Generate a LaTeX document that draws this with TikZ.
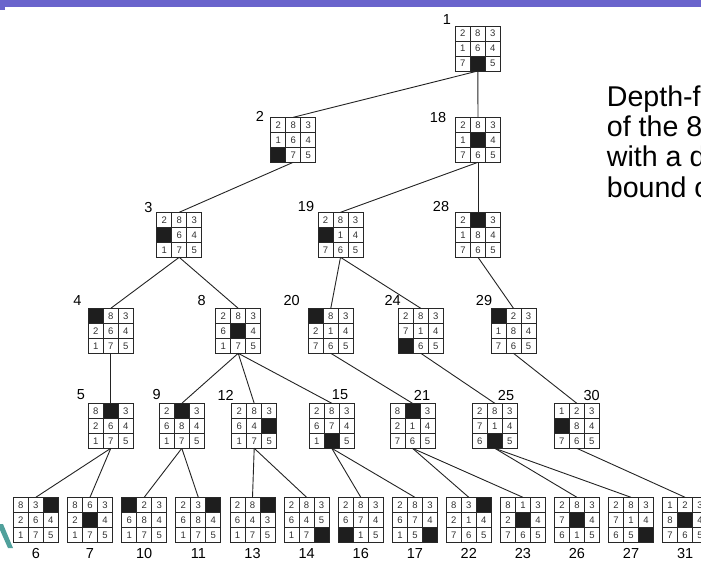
\documentclass[tikz,border=0pt]{standalone}
\usepackage{fontspec}
\setmainfont{Liberation Sans}
\definecolor{barc}{RGB}{106,100,204}
\definecolor{gridc}{RGB}{40,40,40}
\definecolor{txtc}{RGB}{50,50,50}
\definecolor{blankc}{RGB}{30,30,30}
\definecolor{edgec}{RGB}{35,35,35}
\definecolor{tealc}{RGB}{80,160,155}
\newcommand\puz[4]{%
  \node[puzbox] (#1) at ({#2+22.5},{#3+22.5}) {};
  \foreach \v [count=\k from 0] in {#4}{%
    \pgfmathtruncatemacro\prow{div(\k,3)}%
    \pgfmathtruncatemacro\pcol{mod(\k,3)}%
    \ifnum\v=0
      \fill[blankc] ({#2+15*\pcol},{#3+15*\prow}) rectangle ++(15,15);
    \else
      \node[celltxt] (#1c\k) at ({#2+15*\pcol+7.5},{#3+15*\prow+7.5}) {\v};
    \fi
    \draw[cellline] ({#2+15*\pcol},{#3+15*\prow}) rectangle ++(15,15);
  }%
}
\begin{document}
\begin{tikzpicture}[x=1pt,y=-1pt,
  puzbox/.style={draw=gridc, line width=0.9pt, rectangle, minimum width=45pt, minimum height=45pt, inner sep=0pt, outer sep=0pt},
  cellline/.style={draw=gridc, line width=0.8pt},
  celltxt/.style={font=\fontsize{9.5}{10}\selectfont, text=txtc, inner sep=0pt},
  lbl/.style={font=\fontsize{14.5}{15}\selectfont, inner sep=0pt},
  edge/.style={draw=edgec, line width=0.9pt},
  bigtxt/.style={font=\fontsize{28.6}{30}\selectfont, anchor=base west, inner sep=0pt}]
\useasboundingbox (0,0) rectangle (701,562);
\clip (0,0) rectangle (701,562);
\fill[barc] (0,0) rectangle (701,7);
\fill[barc] (0,7) rectangle (5,10);
\fill[tealc] (0,524) -- (3,524) -- (13,548) -- (8,548) -- (0,530) -- cycle;
% level 0
\puz{p1}{455.3}{26}{2,8,3,1,6,4,7,0,5}
% level 1
\puz{p2}{270.7}{117.3}{2,8,3,1,6,4,0,7,5}
\puz{p18}{455.5}{117.3}{2,8,3,1,0,4,7,6,5}
% level 2
\puz{p3}{156.7}{212.3}{2,8,3,0,6,4,1,7,5}
\puz{p19}{318}{212.3}{2,8,3,0,1,4,7,6,5}
\puz{p28}{455.5}{212.3}{2,0,3,1,8,4,7,6,5}
% level 3
\puz{p4}{88.3}{308.3}{0,8,3,2,6,4,1,7,5}
\puz{p8}{215.7}{308.3}{2,8,3,6,0,4,1,7,5}
\puz{p20}{308.3}{308.3}{0,8,3,2,1,4,7,6,5}
\puz{p24}{398.3}{308.3}{2,8,3,7,1,4,0,6,5}
\puz{p29}{491}{308.3}{0,2,3,1,8,4,7,6,5}
% level 4
\puz{p5}{88.3}{403.3}{8,0,3,2,6,4,1,7,5}
\puz{p9}{159.3}{403.3}{2,0,3,6,8,4,1,7,5}
\puz{p12}{231.7}{403.3}{2,8,3,6,4,0,1,7,5}
\puz{p15}{309.3}{403.3}{2,8,3,6,7,4,1,0,5}
\puz{p21}{390}{403.3}{8,0,3,2,1,4,7,6,5}
\puz{p25}{472.3}{403.3}{2,8,3,7,1,4,6,0,5}
\puz{p30}{554.3}{403.3}{1,2,3,0,8,4,7,6,5}
% leaves
\puz{p6}{13.3}{497.3}{8,3,0,2,6,4,1,7,5}
\puz{p7}{67.5}{497.3}{8,6,3,2,0,4,1,7,5}
\puz{p10}{121.7}{497.3}{0,2,3,6,8,4,1,7,5}
\puz{p11}{175.8}{497.3}{2,3,0,6,8,4,1,7,5}
\puz{p13}{230}{497.3}{2,8,0,6,4,3,1,7,5}
\puz{p14}{284.1}{497.3}{2,8,3,6,4,5,1,7,0}
\puz{p16}{338.3}{497.3}{2,8,3,6,7,4,0,1,5}
\puz{p17}{392.4}{497.3}{2,8,3,6,7,4,1,5,0}
\puz{p22}{446.3}{497.3}{8,3,0,2,1,4,7,6,5}
\puz{p23}{500.4}{497.3}{8,1,3,2,0,4,7,6,5}
\puz{p26}{554.4}{497.3}{2,8,3,7,0,4,6,1,5}
\puz{p27}{608.5}{497.3}{2,8,3,7,1,4,6,5,0}
\puz{p31}{662.6}{497.3}{1,2,3,8,0,4,7,6,5}
% edges
\foreach \a/\b in {p1/p2,p1/p18,p2/p3,p3/p4,p3/p8,p4/p5,p5/p6,p5/p7,p8/p9,p8/p12,p8/p15,p9/p10,p9/p11,p12/p13,p12/p14,p15/p16,p15/p17,p18/p19,p18/p28,p19/p20,p19/p24,p20/p21,p21/p22,p21/p23,p24/p25,p25/p26,p25/p27,p28/p29,p29/p30,p30/p31}
  \draw[edge] (\a.south) -- (\b.north);
% labels
\node[lbl] (l1) at (447,20) {1};
\node[lbl] (l2) at (260,116.7) {2};
\node[lbl] (l18) at (438,118) {18};
\node[lbl] (l3) at (148.3,207.3) {3};
\node[lbl] (l19) at (306,207) {19};
\node[lbl] (l28) at (441,207) {28};
\node[lbl] (l4) at (77.3,300.7) {4};
\node[lbl] (l8) at (201.7,300.3) {8};
\node[lbl] (l20) at (291.7,300.3) {20};
\node[lbl] (l24) at (392.7,300.7) {24};
\node[lbl] (l29) at (484,300.7) {29};
\node[lbl] (l5) at (81,395) {5};
\node[lbl] (l9) at (156.7,395) {9};
\node[lbl] (l12) at (225.7,395) {12};
\node[lbl] (l15) at (340,395) {15};
\node[lbl] (l21) at (422,395.7) {21};
\node[lbl] (l25) at (506,395.7) {25};
\node[lbl] (l30) at (591.7,395.7) {30};
\foreach \n in {6,7,10,11,13,14,16,17,22,23,26,27,31}
  \node[lbl] (l\n) at ([yshift=-11.5pt]p\n.south) {\n};
% caption
\node[bigtxt] (t1) at (606.7,106.7) {Depth-first search};
\node[bigtxt] (t2) at (606.7,136.7) {of the 8-puzzle};
\node[bigtxt] (t3) at (606.7,166.7) {with a depth};
\node[bigtxt] (t4) at (606.7,197.3) {bound of 5};
\end{tikzpicture}
\end{document}
